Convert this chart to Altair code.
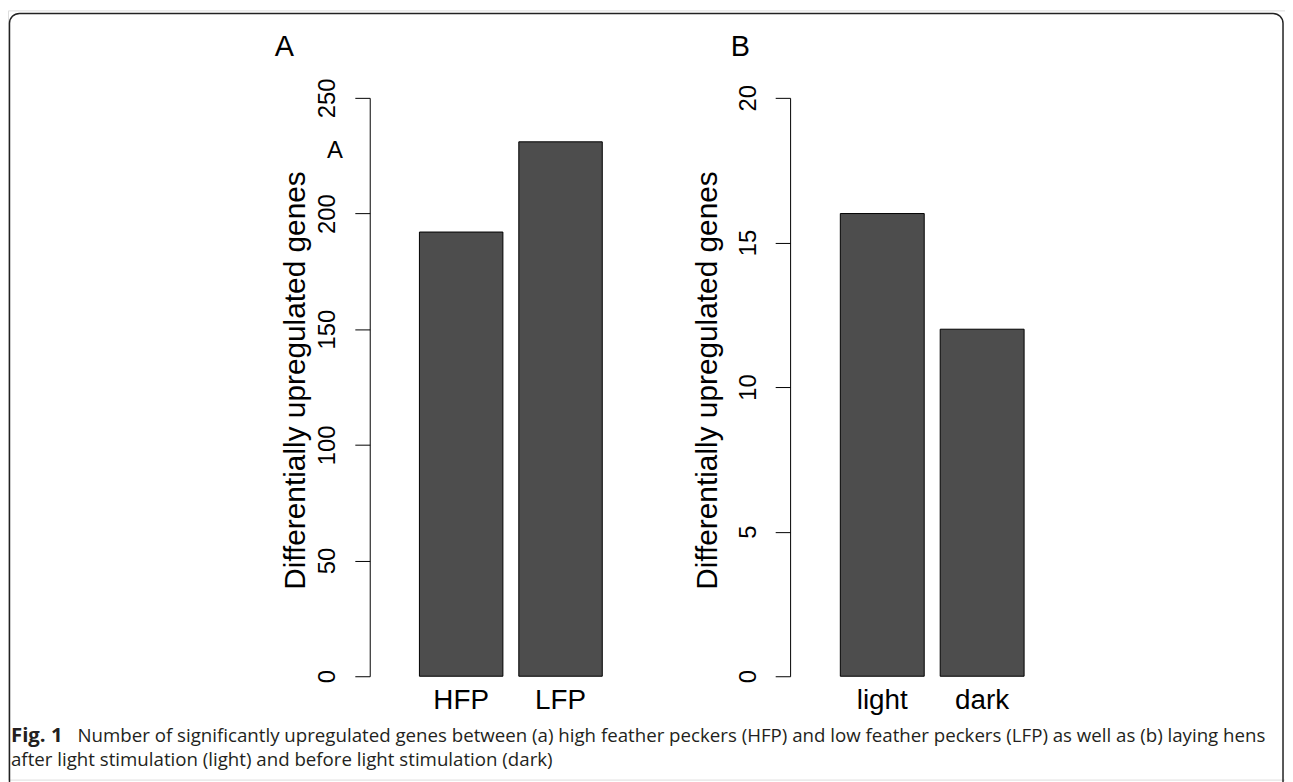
import altair as alt
import pandas as pd

# ---- data ----
groups_a = ["HFP", "LFP"]
counts_a = [192, 231]
groups_b = ["light", "dark"]
counts_b = [16, 12]
yticks_a = [0, 50, 100, 150, 200, 250]
yticks_b = [0, 5, 10, 15, 20]
y_title = "Differentially upregulated genes"
caption_bold = "Fig. 1"
caption_line1 = ("Number of significantly upregulated genes between (a) high feather peckers (HFP) "
                 "and low feather peckers (LFP) as well as (b) laying hens")
caption_line2 = "after light stimulation (light) and before light stimulation (dark)"

df_a = pd.DataFrame({"group": groups_a, "count": counts_a})
df_b = pd.DataFrame({"group": groups_b, "count": counts_b})
one = pd.DataFrame({"k": [0]})

FONT = "Liberation Sans"
CAP_FONT = "Open Sans"
BAR_FILL = "#4d4d4d"

xs_a = alt.Scale(domain=groups_a, range=[406, 606], paddingInner=0.16, paddingOuter=0.08)
xs_b = alt.Scale(domain=groups_b, range=[829.5, 1030.5], paddingInner=0.16, paddingOuter=0.08)
ys_a = alt.Scale(domain=[0, 250], range=[670, 88], nice=False)
ys_b = alt.Scale(domain=[0, 20], range=[670, 88], nice=False)

def yaxis(values, offset, title_x):
    return alt.Axis(
        orient="left", offset=offset, values=values, format="d",
        labelAngle=-90, labelAlign="center", labelBaseline="alphabetic",
        labelFontSize=24, labelFont=FONT, labelColor="black", labelPadding=20,
        tickSize=15, tickColor="black", tickWidth=1,
        domainColor="black", domainWidth=1, grid=False,
        title=y_title, titleFont=FONT, titleFontSize=30, titleFontWeight="normal",
        titleColor="black", titleAngle=-90, titleAlign="center", titleBaseline="alphabetic",
        titleX=title_x, titleY=372,
    )

bars_a = alt.Chart(df_a).mark_bar(color=BAR_FILL, stroke="black", strokeWidth=1).encode(
    x=alt.X("group:N", scale=xs_a, axis=None, sort=groups_a),
    y=alt.Y("count:Q", scale=ys_a, axis=yaxis(yticks_a, -364, -66)),
)
labels_a = alt.Chart(df_a).mark_text(font=FONT, fontSize=28, baseline="alphabetic", color="black").encode(
    x=alt.X("group:N", scale=xs_a, axis=None, sort=groups_a),
    y=alt.value(703),
    text="group:N",
)
bars_b = alt.Chart(df_b).mark_bar(color=BAR_FILL, stroke="black", strokeWidth=1).encode(
    x=alt.X("group:N", scale=xs_b, axis=None, sort=groups_b),
    y=alt.Y("count:Q", scale=ys_b, axis=yaxis(yticks_b, -787, -74)),
)
labels_b = alt.Chart(df_b).mark_text(font=FONT, fontSize=28, baseline="alphabetic", color="black").encode(
    x=alt.X("group:N", scale=xs_b, axis=None, sort=groups_b),
    y=alt.value(703),
    text="group:N",
)

border = alt.Chart(one).mark_rect(
    fillOpacity=0, stroke="#222222", strokeWidth=1.5, cornerRadius=10
).encode(x=alt.value(1.5), x2=alt.value(1283), y=alt.value(3), y2=alt.value(800))

letter_a = alt.Chart(one).mark_text(text="A", font=FONT, fontSize=29, color="black",
                                    baseline="alphabetic").encode(x=alt.value(278), y=alt.value(46))
letter_b = alt.Chart(one).mark_text(text="B", font=FONT, fontSize=29, color="black",
                                    baseline="alphabetic").encode(x=alt.value(737), y=alt.value(46))
letter_inner = alt.Chart(one).mark_text(text="A", font=FONT, fontSize=24, color="black",
                                        baseline="alphabetic").encode(x=alt.value(329), y=alt.value(149))

cap_bold = alt.Chart(one).mark_text(text=caption_bold, font=CAP_FONT, fontSize=20.5, fontWeight="bold",
                                    align="left", baseline="alphabetic", color="#231f20").encode(
    x=alt.value(3), y=alt.value(736))
cap_1 = alt.Chart(one).mark_text(text=caption_line1, font=CAP_FONT, fontSize=18.8,
                                 align="left", baseline="alphabetic", color="#231f20").encode(
    x=alt.value(70), y=alt.value(736))
cap_2 = alt.Chart(one).mark_text(text=caption_line2, font=CAP_FONT, fontSize=18.8,
                                 align="left", baseline="alphabetic", color="#231f20").encode(
    x=alt.value(3), y=alt.value(760))

chart = alt.layer(
    border, bars_a, labels_a, bars_b, labels_b, letter_a, letter_b, letter_inner, cap_bold, cap_1, cap_2
).resolve_scale(x="independent", y="independent").properties(
    width=1285, height=774, autosize=alt.AutoSizeParams(type="none"), padding=0
).configure_view(stroke=None).configure(background="white")

chart.save("out.html", embed_options={"renderer": "svg", "actions": False})
